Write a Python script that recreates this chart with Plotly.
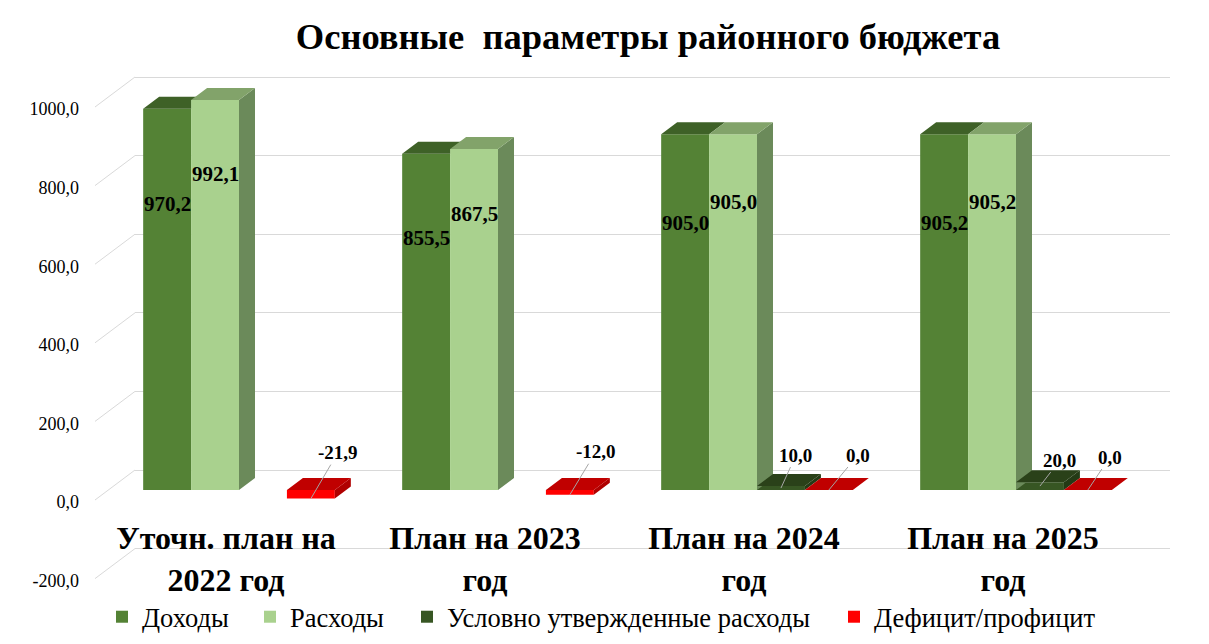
"""Основные параметры районного бюджета — 3D-like grouped columns."""

import plotly.graph_objects as go

CATEGORIES = [
    "Уточн. план на<br>2022 год",
    "План на 2023<br>год",
    "План на 2024<br>год",
    "План на 2025<br>год",
]
REVENUE = [970.2, 855.5, 905.0, 905.2]
EXPENSES = [992.1, 867.5, 905.0, 905.2]
CONDITIONAL = [None, None, 10.0, 20.0]
DEFICIT = [-21.9, -12.0, 0.0, 0.0]
Y_TICKS = [-200, 0, 200, 400, 600, 800, 1000]

SERIES = [
    ("Доходы", REVENUE, "#548235", "#3e6127", "#3e6127"),
    ("Расходы", EXPENSES, "#a9d18e", "#82a36a", "#6b8a5a"),
    ("Условно утвержденные расходы", CONDITIONAL, "#375623", "#2a4119", "#243a15"),
    ("Дефицит/профицит", DEFICIT, "#ff0000", "#c00000", "#b00000"),
]

FONT = "Liberation Serif"
GRID = "#d9d9d9"

# pixel geometry of the picture
W, H = 1209, 644
X_LEFT, X_RIGHT = 135, 1170
GROUP0_PX, BAND_PX = 239, 259
LABEL_SHIFT_PX = 13  # category captions sit a bit left of the columns (perspective)
Y_TOP, Y_BOT = 60, 600
ZERO_BAR, ZERO_BACK, ZERO_FRONT = 490, 470, 502
PX_PER_UNIT = 0.393
BARGAP = 0.26
BW = (1 - BARGAP) / 4
DX = 16 / BAND_PX
DY = 12 / PX_PER_UNIT
LEGEND_PX = [122, 270, 427, 854]  # centre of each legend swatch


def fmt(v):
    return f"{v:.1f}".replace(".", ",")


def yrange(zero_px):
    return [(zero_px - Y_BOT) / PX_PER_UNIT, (zero_px - Y_TOP) / PX_PER_UNIT]


def xrange(shift_px=0):
    return [(X_LEFT - GROUP0_PX + shift_px) / BAND_PX, (X_RIGHT - GROUP0_PX + shift_px) / BAND_PX]


def bar_edges(i, k):
    c = i + (k - 1.5) * BW
    return c - BW / 2, c + BW / 2


fig = go.Figure()

legend_ids = ["legend", "legend2", "legend3", "legend4"]
for (name, vals, front, _, _), lg in zip(SERIES, legend_ids):
    fig.add_trace(
        go.Bar(
            name=name,
            x=list(range(len(CATEGORIES))),
            y=vals,
            marker=dict(color=front, line=dict(width=0)),
            hoverinfo="skip",
            legend=lg,
        )
    )

# depth faces (top + right side) built from the same values
for k, (name, vals, _, top_col, side_col) in enumerate(SERIES):
    sx, sy, tx, ty = [], [], [], []
    for i, v in enumerate(vals):
        if v is None:
            continue
        x0, x1 = bar_edges(i, k)
        lo, hi = min(v, 0), max(v, 0)
        nxt = SERIES[k + 1][1][i] if k + 1 < len(SERIES) else None
        if nxt is None or nxt < hi:
            sx += [x1, x1, x1 + DX, x1 + DX, x1, None]
            sy += [lo, hi, hi + DY, lo + DY, lo, None]
        # clip top face where the next (front) column rises over it
        cut = hi if nxt is None else max(hi, min(nxt, hi + DY))
        xe = x1 + DX * (cut - hi) / DY
        tx += [x0, x1, x1, xe, x1 + DX, x0 + DX, x0, None]
        ty += [hi, hi, cut, cut, hi + DY, hi + DY, hi, None]
    for xs, ys, col in ((sx, sy, side_col), (tx, ty, top_col)):
        if xs:
            fig.add_trace(
                go.Scatter(
                    x=xs, y=ys, mode="lines", fill="toself", fillcolor=col,
                    line=dict(width=0), showlegend=False, hoverinfo="skip",
                )
            )

# helper traces so the extra axes exist
for ax in ("y2", "y3"):
    fig.add_trace(go.Scatter(x=[None], y=[None], yaxis=ax, showlegend=False, hoverinfo="skip"))
fig.add_trace(go.Scatter(x=[None], y=[None], xaxis="x2", showlegend=False, hoverinfo="skip"))

# big value labels inside the tall columns
for i in range(len(CATEGORIES)):
    for k, frac in ((0, 0.75), (1, 0.81)):
        v = SERIES[k][1][i]
        x0, x1 = bar_edges(i, k)
        fig.add_annotation(
            x=(x0 + x1) / 2, y=v * frac, text=f"<b>{fmt(v)}</b>", showarrow=False,
            font=dict(family=FONT, size=21, color="#000000"),
        )

# small labels with leader lines
LEADERS = {(0, 3): (27, -46), (1, 3): (26, -43), (2, 2): (15, -33),
           (2, 3): (29, -35), (3, 2): (20, -26), (3, 3): (22, -33)}
for (i, k), (axp, ayp) in LEADERS.items():
    v = SERIES[k][1][i]
    x0, x1 = bar_edges(i, k)
    fig.add_annotation(
        x=(x0 + x1) / 2, y=v if v <= 0 else v / 2, text=f"<b>{fmt(v)}</b>",
        showarrow=True, arrowhead=0, arrowwidth=1, arrowcolor="#a6a6a6",
        ax=axp, ay=ayp, standoff=0,
        font=dict(family=FONT, size=19, color="#000000"),
    )

# perspective stubs from front labels to the back wall
for v in Y_TICKS:
    fig.add_shape(
        type="line", xref="paper", yref="y2",
        x0=95 / W, x1=X_LEFT / W, y0=v - 30 / PX_PER_UNIT, y1=v,
        line=dict(color=GRID, width=1), layer="below",
    )

legend_style = dict(
    orientation="h", xanchor="left", y=1 - 617 / H, yanchor="middle",
    font=dict(family=FONT, size=26.5, color="#000000"),
    bgcolor="rgba(0,0,0,0)", itemclick=False, itemdoubleclick=False,
)

fig.update_layout(
    width=W,
    height=H,
    barmode="group",
    bargap=BARGAP,
    bargroupgap=0,
    paper_bgcolor="#ffffff",
    plot_bgcolor="rgba(0,0,0,0)",
    margin=dict(l=0, r=0, t=0, b=0, autoexpand=False),
    font=dict(family=FONT, color="#000000"),
    title=dict(
        text="<b>Основные  параметры районного бюджета</b>",
        font=dict(family=FONT, size=36.5, color="#000000"),
        x=648 / W, xanchor="center", y=1 - 36 / H, yanchor="middle",
    ),
    xaxis=dict(
        domain=[X_LEFT / W, X_RIGHT / W],
        range=xrange(), automargin=False,
        showticklabels=False, showgrid=False, zeroline=False, showline=False,
        ticks="", fixedrange=True,
    ),
    xaxis2=dict(
        overlaying="x", anchor="free", position=1 - 516 / H,
        range=xrange(LABEL_SHIFT_PX), automargin=False,
        tickvals=list(range(len(CATEGORIES))),
        ticktext=[f"<b>{c}</b>" for c in CATEGORIES],
        tickfont=dict(family=FONT, size=32, color="#000000"),
        showgrid=False, zeroline=False, showline=False, ticks="",
        fixedrange=True,
    ),
    yaxis=dict(
        domain=[1 - Y_BOT / H, 1 - Y_TOP / H],
        range=yrange(ZERO_BAR), automargin=False,
        showgrid=False, zeroline=False, showticklabels=False,
        fixedrange=True,
    ),
    yaxis2=dict(
        overlaying="y", anchor="x",
        range=yrange(ZERO_BACK), automargin=False,
        tickvals=Y_TICKS, showgrid=True, gridcolor=GRID, gridwidth=1,
        zeroline=False, showticklabels=False, fixedrange=True,
    ),
    yaxis3=dict(
        overlaying="y", anchor="free", position=79 / W, side="left",
        range=yrange(ZERO_FRONT), automargin=False,
        tickvals=Y_TICKS, ticktext=[fmt(v) for v in Y_TICKS],
        tickfont=dict(family=FONT, size=18, color="#000000"),
        showgrid=False, zeroline=False, showline=False, ticks="",
        fixedrange=True,
    ),
    showlegend=True,
)
for lg, px in zip(legend_ids, LEGEND_PX):
    fig.update_layout({lg: dict(legend_style, x=(px - 20) / W)})

fig.write_html(
    "out.html",
    config={"displayModeBar": False},
    post_script="document.body.style.margin='0';",
)
